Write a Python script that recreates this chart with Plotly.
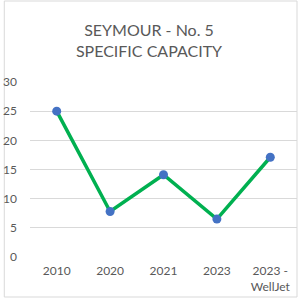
import plotly.graph_objects as go

categories = ["2010", "2020", "2021", "2023", "2023 -<br>WellJet"]
values = [25.0, 7.8, 14.1, 6.5, 17.1]
y_ticks = [0, 5, 10, 15, 20, 25, 30]

title_text = "SEYMOUR - No. 5<br>SPECIFIC CAPACITY"
FONT = "Lato"
GREY = "#595959"

fig = go.Figure()
fig.add_trace(go.Scatter(
    x=list(range(len(categories))), y=values, mode="lines+markers",
    line=dict(color="#00b050", width=3.5),
    marker=dict(color="#4472c4", size=9),
    showlegend=False, hoverinfo="skip",
))

L, R, T, B = 27, 3, 82, 43
W = H = 300
pw, ph = W - L - R, H - T - B

fig.update_layout(
    width=W, height=H,
    margin=dict(l=L, r=R, t=T, b=B),
    paper_bgcolor="white", plot_bgcolor="white",
    title=dict(text=title_text, x=149 / W, xanchor="center", xref="container",
               y=1 - 36 / H, yanchor="middle",
               font=dict(family=FONT, size=16, color=GREY)),
    font=dict(family=FONT, size=12, color=GREY),
    xaxis=dict(range=[-0.5, len(categories) - 0.5], tickmode="array",
               tickvals=list(range(len(categories))), ticktext=categories,
               showgrid=False, zeroline=False, showline=False, ticks="",
               ticklabelstandoff=5, fixedrange=True),
    yaxis=dict(range=[0, 30], tickmode="array", tickvals=y_ticks,
               showgrid=True, gridcolor="#d9d9d9", gridwidth=1,
               zeroline=False, showline=False, ticks="",
               ticklabelstandoff=12, fixedrange=True),
    shapes=[dict(type="rect", xref="paper", yref="paper",
                 x0=(1 - L) / pw, x1=(297 - L) / pw,
                 y0=(H - B - 297) / ph, y1=(H - B - 1) / ph,
                 line=dict(color="#d9d9d9", width=1), layer="below")],
)

fig.write_html("out.html")
